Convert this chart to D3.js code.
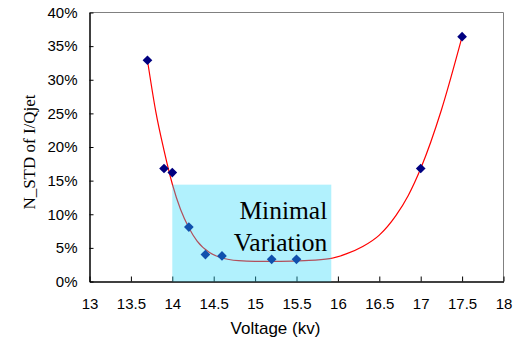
<!DOCTYPE html>
<html>
<head>
<meta charset="utf-8">
<script src="https://cdn.jsdelivr.net/npm/d3@7"></script>
<style>
  html, body { margin: 0; padding: 0; background: #fff; }
  svg { display: block; }
</style>
</head>
<body>
<svg id="chart" width="523" height="341"></svg>
<script>
// Measured points
const voltage = [13.7, 13.9, 14.0, 14.2, 14.4, 14.6, 15.2, 15.5, 17.0, 17.5];
const nstd    = [0.329, 0.168, 0.162, 0.081, 0.040, 0.038, 0.033, 0.033, 0.168, 0.364];

// Trendline
const trendX = [13.7, 13.8, 13.9, 14.0, 14.1, 14.2, 14.3, 14.45, 14.6, 14.8, 15.0, 15.3, 15.6, 15.9, 16.1, 16.3, 16.5, 16.7, 16.85, 17.0, 17.25, 17.5];
const trendY = [0.329, 0.253, 0.195, 0.145, 0.107, 0.080, 0.060, 0.043, 0.035, 0.031, 0.030, 0.030, 0.031, 0.034, 0.041, 0.052, 0.069, 0.098, 0.128, 0.168, 0.255, 0.364];

// Highlight region
const regionX = [14.0, 15.92];
const regionTop = 0.144;
const regionLabel = ["Minimal", "Variation"];

const xTicks = [13, 13.5, 14, 14.5, 15, 15.5, 16, 16.5, 17, 17.5, 18];
const yTicks = [0, 0.05, 0.10, 0.15, 0.20, 0.25, 0.30, 0.35, 0.40];

const xTitle = "Voltage (kv)";
const yTitle = "N_STD of I/Qjet";

const svg = d3.select("#chart");
const L = 89.5, R = 503.5, T = 12.5, B = 281.5;

const x = d3.scaleLinear().domain([13, 18]).range([L, R]);
const y = d3.scaleLinear().domain([0, 0.40]).range([B, T]);

// plot border (top/right grey)
svg.append("path")
  .attr("d", `M${L},${T}H${R}V${B}`)
  .attr("fill", "none").attr("stroke", "#808080").attr("stroke-width", 1);

// axes
const xAxis = d3.axisBottom(x).tickValues(xTicks).tickSizeInner(-5).tickSizeOuter(0)
  .tickFormat(d3.format("~g"));
const gx = svg.append("g").attr("transform", `translate(0,${B})`).call(xAxis);
gx.select(".domain").attr("stroke", "#000").attr("stroke-width", 1.5);
gx.selectAll(".tick line").attr("stroke", "#000");
gx.selectAll(".tick text")
  .attr("font-family", "'Liberation Sans', Arial, sans-serif")
  .attr("font-size", 15).attr("fill", "#000")
  .attr("dy", null).attr("y", 27);

const yAxis = d3.axisLeft(y).tickValues(yTicks).tickSizeInner(-4).tickSizeOuter(0)
  .tickFormat(d3.format(".0%"));
const gy = svg.append("g").attr("transform", `translate(${L},0)`).call(yAxis);
gy.select(".domain").attr("stroke", "#000").attr("stroke-width", 1.5);
gy.selectAll(".tick line").attr("stroke", "#000");
gy.selectAll(".tick text")
  .attr("font-family", "'Liberation Sans', Arial, sans-serif")
  .attr("font-size", 15).attr("fill", "#000")
  .attr("x", -12);

// trendline
const line = d3.line().x(d => x(d[0])).y(d => y(d[1])).curve(d3.curveMonotoneX);
svg.append("path")
  .datum(d3.zip(trendX, trendY))
  .attr("d", line)
  .attr("fill", "none").attr("stroke", "#ff0000").attr("stroke-width", 1.2);

// markers
svg.append("g").selectAll("path")
  .data(d3.zip(voltage, nstd))
  .join("path")
  .attr("d", d3.symbol(d3.symbolDiamond2, 60)())
  .attr("transform", d => `translate(${x(d[0])},${y(d[1])})`)
  .attr("fill", "#000080");

// highlight rectangle (semi-transparent overlay)
svg.append("rect")
  .attr("x", x(regionX[0])).attr("y", y(regionTop))
  .attr("width", x(regionX[1]) - x(regionX[0]))
  .attr("height", y(0) - y(regionTop))
  .attr("fill", "rgb(43,216,249)").attr("fill-opacity", 0.37);

// region label
const lbl = svg.append("text")
  .attr("font-family", "'Liberation Serif', 'Times New Roman', serif")
  .attr("font-size", 25.5).attr("fill", "#000").attr("text-anchor", "end");
regionLabel.forEach((t, i) => {
  lbl.append("tspan").attr("x", x(regionX[1]) - 4).attr("y", 219 + i * 31.5).text(t);
});

// axis titles
svg.append("text")
  .attr("x", (L + R) / 2 - 21).attr("y", 334)
  .attr("text-anchor", "middle")
  .attr("font-family", "'Liberation Sans', Arial, sans-serif")
  .attr("font-size", 17).attr("fill", "#000")
  .text(xTitle);

svg.append("text")
  .attr("transform", `translate(35,152) rotate(-90)`)
  .attr("text-anchor", "middle")
  .attr("font-family", "'Liberation Serif', 'Times New Roman', serif")
  .attr("font-size", 17).attr("fill", "#000")
  .text(yTitle);
</script>
</body>
</html>
